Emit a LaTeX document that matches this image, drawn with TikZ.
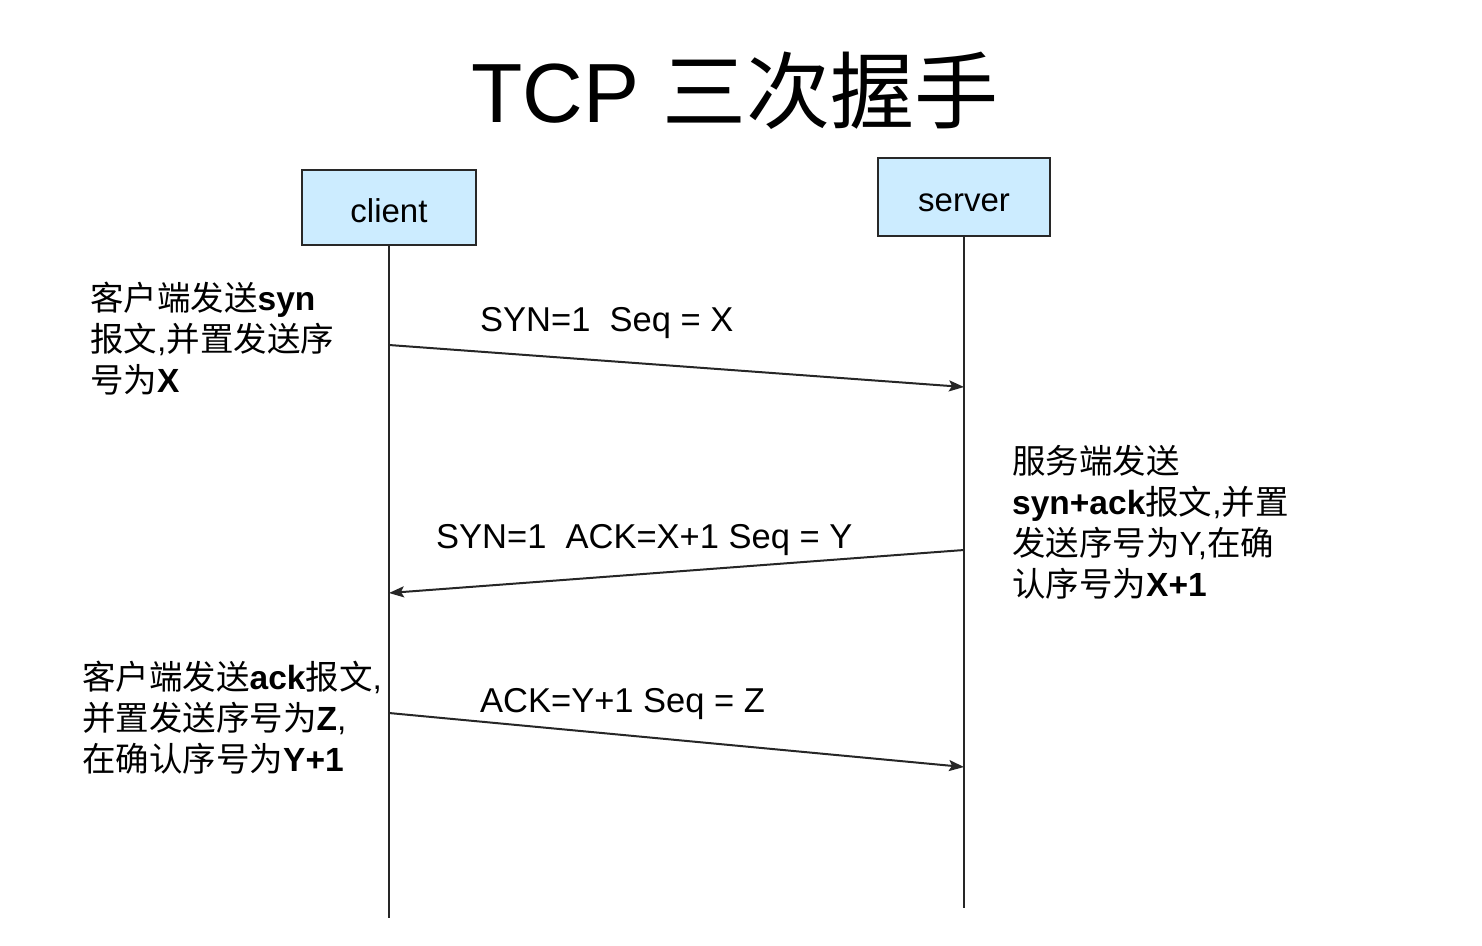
\documentclass[tikz,border=0pt]{standalone}
\usepackage{fontspec}
\setmainfont{Liberation Sans}
\newfontfamily\cjk{Noto Sans CJK SC}
\usetikzlibrary{arrows.meta}
\newcommand\zh[1]{{\cjk #1}}
\definecolor{boxblue}{RGB}{204,236,255}
\definecolor{boxline}{RGB}{40,40,40}
\begin{document}
\begin{tikzpicture}[x=1pt,y=-1pt,
  lane/.style={draw=boxline,line width=2pt,fill=boxblue,font=\fontsize{33}{40}\selectfont,inner sep=0pt,text depth=0pt},
  life/.style={line width=2.2pt,black!85},
  msg/.style={line width=2pt,black!85,-{Stealth[length=15pt,width=11pt,inset=3pt]}},
  msglabel/.style={font=\fontsize{34.5}{40}\selectfont,anchor=base west,inner sep=0pt},
  note/.style={font=\fontsize{33.5}{41}\selectfont,align=left,anchor=north west,inner sep=0pt}]
\useasboundingbox (0,0) rectangle (1482,945);
\fill[white] (0,0) rectangle (1482,945);
% title
\node[font=\fontsize{84}{100}\selectfont,anchor=base,inner sep=0pt] (title) at (735,122) {TCP \zh{三次握手}};
% participants
\node[lane,minimum width=174pt,minimum height=75pt,text height=29pt] (client) at (389,207.5) {client};
\node[lane,minimum width=172pt,minimum height=78pt,text height=28pt] (server) at (964,197) {server};
\coordinate (cend) at (389,918);
\coordinate (send) at (964,908);
\draw[life] (client.south) -- (cend);
\draw[life] (server.south) -- (send);
% messages
\coordinate (m1s) at (389,345);
\coordinate (m1e) at (964,387);
\coordinate (m2s) at (964,550);
\coordinate (m2e) at (389,593);
\coordinate (m3s) at (389,713);
\coordinate (m3e) at (964,767);
\draw[msg] (m1s) -- (m1e);
\draw[msg] (m2s) -- (m2e);
\draw[msg] (m3s) -- (m3e);
\node[msglabel] (l1) at (480,331) {SYN=1~~Seq = X};
\node[msglabel] (l2) at (436,548) {SYN=1~~ACK=X+1 Seq = Y};
\node[msglabel] (l3) at (480,712) {ACK=Y+1 Seq = Z};
% notes
\node[note] (n1) at (90,282) {\zh{客户端发送}\textbf{syn}\\\zh{报文},\zh{并置发送序}\\\zh{号为}\textbf{X}};
\node[note] (n2) at (1012,445) {\zh{服务端发送}\\\textbf{syn+ack}\zh{报文},\zh{并置}\\\zh{发送序号为}Y,\zh{在确}\\\zh{认序号为}\textbf{X+1}};
\node[note] (n3) at (82,661) {\zh{客户端发送}\textbf{ack}\zh{报文},\\\zh{并置发送序号为}\textbf{Z},\\\zh{在确认序号为}\textbf{Y+1}};
\end{tikzpicture}
\end{document}
